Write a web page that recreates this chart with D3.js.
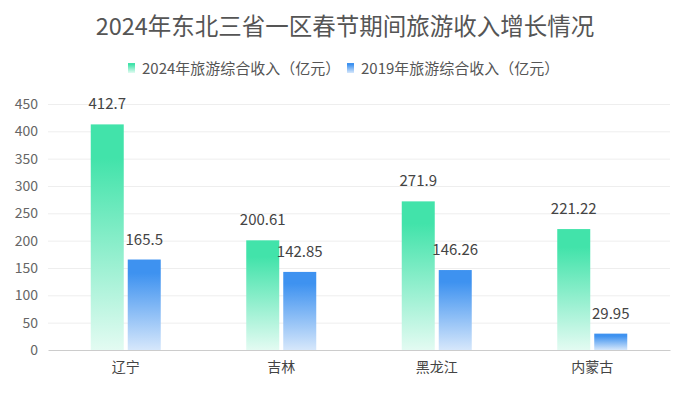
<!DOCTYPE html>
<html>
<head>
<meta charset="utf-8">
<script src="https://cdn.jsdelivr.net/npm/d3@7"></script>
<style>
  body { margin: 0; background: #fff; }
</style>
</head>
<body>
<div id="chart"></div>
<script>
// chart data
var regions = ["辽宁", "吉林", "黑龙江", "内蒙古"];
var income2024 = [412.7, 200.61, 271.9, 221.22];
var income2019 = [165.5, 142.85, 146.26, 29.95];
var seriesNames = ["2024年旅游综合收入（亿元）", "2019年旅游综合收入（亿元）"];
var yTicks = [0, 50, 100, 150, 200, 250, 300, 350, 400, 450];

var width = 690, height = 393;
var margin = {top: 104, right: 20, bottom: 43, left: 48};
var font = "'Noto Sans CJK SC', 'Noto Sans', sans-serif";

var svg = d3.select("#chart").append("svg")
  .attr("width", width)
  .attr("height", height)
  .attr("font-family", font);

var defs = svg.append("defs");
var grads = [["g24", "#42e3aa", "#e3fbf2"], ["g19", "#3e92f0", "#d6e7fb"]];
grads.forEach(function (g) {
  var lg = defs.append("linearGradient").attr("id", g[0])
    .attr("x1", 0).attr("y1", 0).attr("x2", 0).attr("y2", 1);
  lg.append("stop").attr("offset", "0%").attr("stop-color", g[1]);
  lg.append("stop").attr("offset", "15%").attr("stop-color", g[1]);
  lg.append("stop").attr("offset", "100%").attr("stop-color", g[2]);
});

var x = d3.scaleBand()
  .domain(regions)
  .range([margin.left, width - margin.right]);

var y = d3.scaleLinear()
  .domain([0, 450])
  .range([height - margin.bottom, margin.top]);

// title
svg.append("text")
  .attr("x", width / 2)
  .attr("y", 35)
  .attr("text-anchor", "middle")
  .attr("fill", "#555")
  .attr("font-size", "23.5px")
  .text("2024年东北三省一区春节期间旅游收入增长情况");

// legend
var legend = svg.append("g").attr("font-size", "15px").attr("fill", "#555");
var legendX = [128, 347];
seriesNames.forEach(function (name, i) {
  legend.append("rect")
    .attr("x", legendX[i]).attr("y", 63)
    .attr("width", 7).attr("height", 10)
    .attr("fill", "url(#" + grads[i][0] + ")");
  legend.append("text")
    .attr("x", legendX[i] + 14).attr("y", 74)
    .text(name);
});

// gridlines
svg.append("g")
  .selectAll("line")
  .data(yTicks.slice(1))
  .join("line")
  .attr("x1", margin.left)
  .attr("x2", width - margin.right)
  .attr("y1", d => y(d) + 0.5)
  .attr("y2", d => y(d) + 0.5)
  .attr("stroke", "#eeeeee");

// y axis
var yAxis = svg.append("g")
  .attr("transform", `translate(${margin.left},0)`)
  .call(d3.axisLeft(y).tickValues(yTicks).tickSize(0).tickPadding(10))
  .call(g => g.select(".domain").remove())
  .call(g => g.selectAll(".tick text")
    .attr("font-family", font)
    .attr("font-size", "14px")
    .attr("fill", "#666"));

// x axis
svg.append("g")
  .attr("transform", `translate(0,${y(0)})`)
  .call(d3.axisBottom(x).tickSize(0).tickPadding(12))
  .call(g => g.select(".domain").attr("stroke", "#cccccc"))
  .call(g => g.selectAll(".tick text")
    .attr("font-family", font)
    .attr("font-size", "14px")
    .attr("fill", "#444"));

// bars
var barW = 33, gap = 4;
var series = [income2024, income2019];
series.forEach(function (vals, s) {
  var offset = s === 0 ? -barW - gap / 2 : gap / 2;
  var g = svg.append("g");
  g.selectAll("rect")
    .data(vals)
    .join("rect")
    .attr("x", (d, i) => x(regions[i]) + x.bandwidth() / 2 + offset)
    .attr("y", d => y(d))
    .attr("width", barW)
    .attr("height", d => y(0) - y(d))
    .attr("fill", "url(#" + grads[s][0] + ")");
  g.selectAll("text")
    .data(vals)
    .join("text")
    .attr("x", (d, i) => x(regions[i]) + x.bandwidth() / 2 + offset + barW / 2)
    .attr("y", d => y(d) - 15)
    .attr("text-anchor", "middle")
    .attr("font-size", "15px")
    .attr("fill", "#444")
    .text(d => d);
});
</script>
</body>
</html>
